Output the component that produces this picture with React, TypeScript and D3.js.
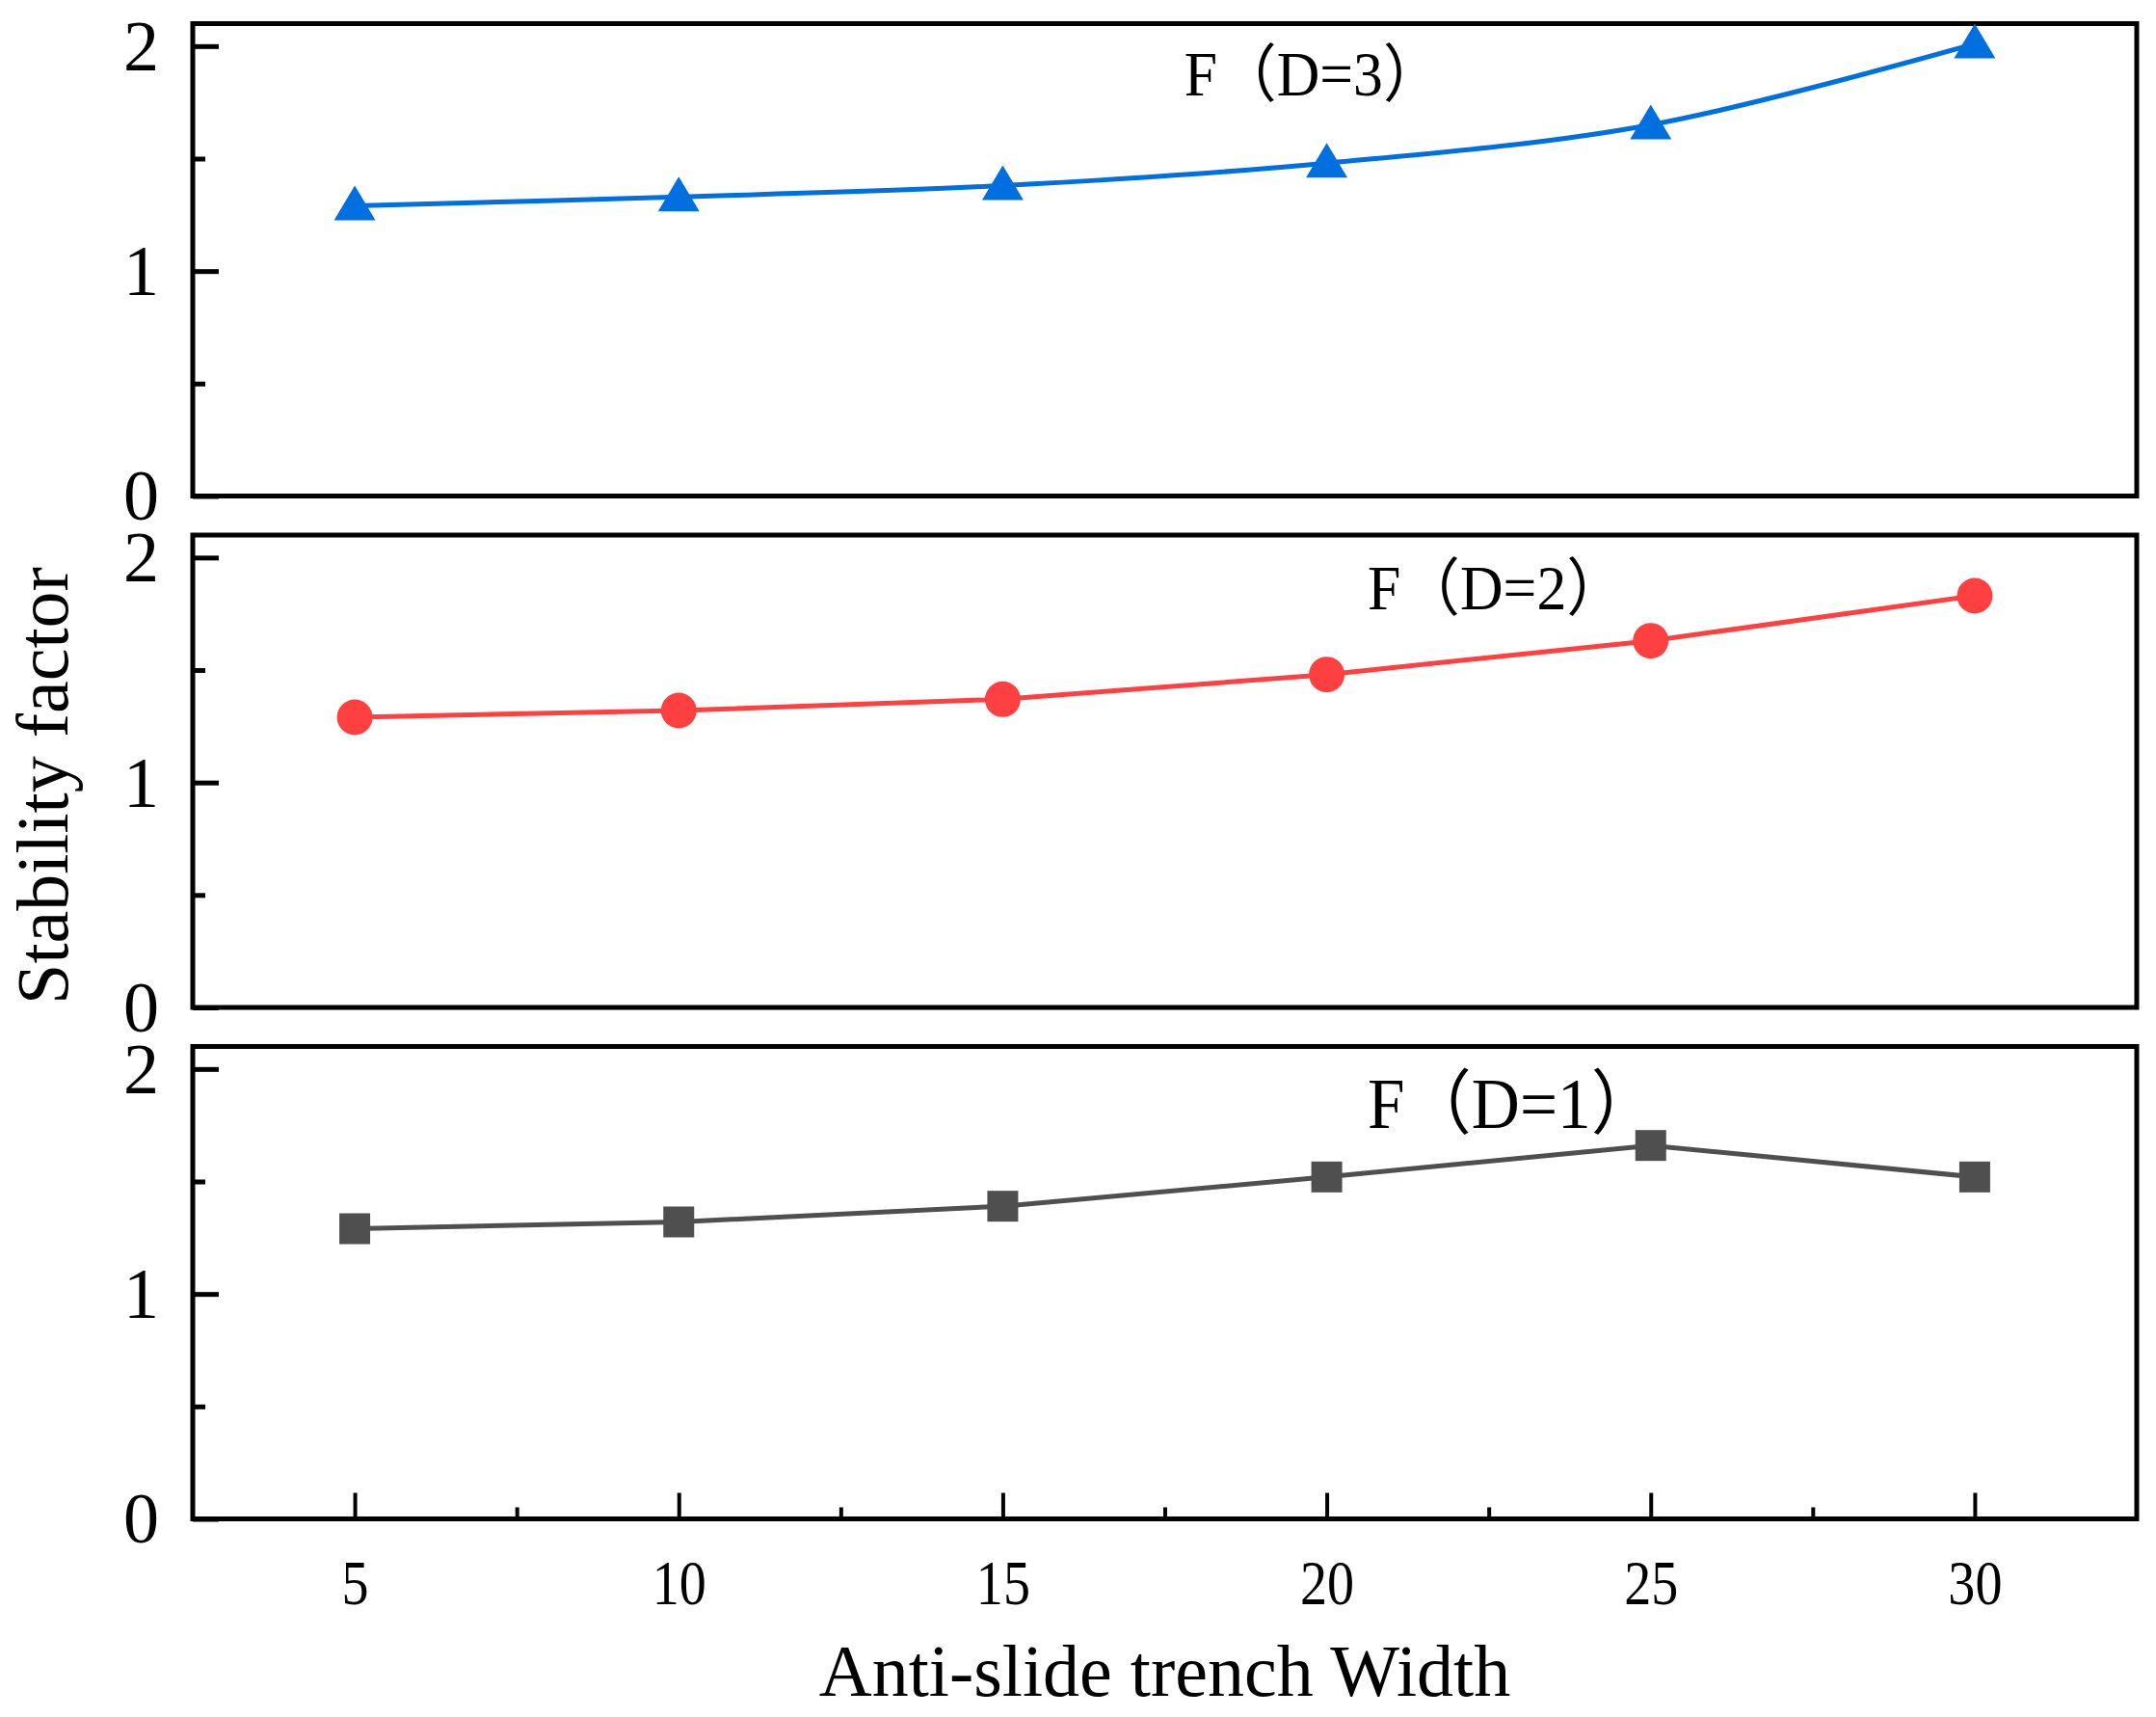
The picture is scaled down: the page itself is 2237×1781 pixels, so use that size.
import { useEffect, useRef } from "react"
import * as d3 from "d3"

// trench width (x) and stability factor per trench depth D
const widths = [5, 10, 15, 20, 25, 30]
const factorD3 = [1.29, 1.33, 1.38, 1.48, 1.65, 2.01]
const factorD2 = [1.29, 1.32, 1.37, 1.48, 1.63, 1.83]
const factorD1 = [1.29, 1.32, 1.39, 1.52, 1.66, 1.52]
const seriesLabels = ["F（D=3）", "F（D=2）", "F（D=1）"]

const xTicks = [5, 10, 15, 20, 25, 30]
const xMinorTicks = [7.5, 12.5, 17.5, 22.5, 27.5]
const yTicks = [0, 1, 2]
const yMinorTicks = [0.5, 1.5]

const W = 2237
const H = 1781
const FONT = `"Times New Roman", "Liberation Serif", "Noto Sans CJK SC", serif`

type Marker = "triangle" | "circle" | "square"

const panels = [
  { values: factorD3, label: seriesLabels[0], color: "#006fdf", marker: "triangle" as Marker, smooth: true, labelAt: [17.8, 1.78], labelSize: 65 },
  { values: factorD2, label: seriesLabels[1], color: "#ff4040", marker: "circle" as Marker, smooth: false, labelAt: [20.63, 1.77], labelSize: 65 },
  { values: factorD1, label: seriesLabels[2], color: "#4f4f4f", marker: "square" as Marker, smooth: false, labelAt: [20.63, 1.74], labelSize: 73 },
]

export default function App() {
  const svgRef = useRef<SVGSVGElement>(null)

  useEffect(() => {
    if (!svgRef.current) return
    const svg = d3.select(svgRef.current)
    svg.selectAll("*").remove()

    const left = 200
    const right = 2217
    const panelTops = [24.5, 555, 1085.5]
    const panelH = 490

    const x = d3.scaleLinear().domain([2.5, 32.5]).range([left, right])

    panels.forEach((p, i) => {
      const top = panelTops[i]
      const y = d3.scaleLinear().domain([0, 2.1]).range([top + panelH, top])
      const g = svg.append("g")

      // y axis, ticks pointing inward
      const yAxis = g.append("g")
        .attr("transform", `translate(${left},0)`)
        .call(d3.axisLeft(y).tickValues(yTicks).tickSize(-27).tickPadding(35).tickFormat(d3.format("d")))
      yAxis.select(".domain").remove()
      yAxis.selectAll(".tick line").attr("stroke", "#000").attr("stroke-width", 5)
      yAxis.selectAll("text")
        .attr("fill", "#000")
        .attr("font-family", FONT)
        .attr("font-size", 74)
        .attr("dy", "0.33em")

      const yMinor = g.append("g")
        .attr("transform", `translate(${left},0)`)
        .call(d3.axisLeft(y).tickValues(yMinorTicks).tickSize(-13).tickFormat(() => ""))
      yMinor.select(".domain").remove()
      yMinor.selectAll(".tick line").attr("stroke", "#000").attr("stroke-width", 5)

      if (i === panels.length - 1) {
        const xAxis = g.append("g")
          .attr("transform", `translate(0,${top + panelH})`)
          .call(d3.axisBottom(x).tickValues(xTicks).tickSize(-27).tickPadding(42).tickFormat(d3.format("d")))
        xAxis.select(".domain").remove()
        xAxis.selectAll(".tick line").attr("stroke", "#000").attr("stroke-width", 4)
        xAxis.selectAll("text")
          .attr("fill", "#000")
          .attr("font-family", FONT)
          .attr("font-size", 66)
          .attr("transform", "scale(0.85,1)")

        const xMinor = g.append("g")
          .attr("transform", `translate(0,${top + panelH})`)
          .call(d3.axisBottom(x).tickValues(xMinorTicks).tickSize(-12).tickFormat(() => ""))
        xMinor.select(".domain").remove()
        xMinor.selectAll(".tick line").attr("stroke", "#000").attr("stroke-width", 4)
      }

      // frame
      g.append("rect")
        .attr("x", left)
        .attr("y", top)
        .attr("width", right - left)
        .attr("height", panelH)
        .attr("fill", "none")
        .attr("stroke", "#000")
        .attr("stroke-width", 5)

      const pts = widths.map((w, k) => [w, p.values[k]] as [number, number])

      const line = d3.line<[number, number]>()
        .x((d) => x(d[0]))
        .y((d) => y(d[1]))
        .curve(p.smooth ? d3.curveCatmullRom : d3.curveLinear)

      g.append("path")
        .datum(pts)
        .attr("d", line)
        .attr("fill", "none")
        .attr("stroke", p.color)
        .attr("stroke-width", 5)

      const markers = g.selectAll(".m")
        .data(pts)
        .enter()
        .append("g")
        .attr("transform", (d) => `translate(${x(d[0])},${y(d[1])})`)

      if (p.marker === "triangle") {
        markers.append("path").attr("d", "M0,-21L21.5,15L-21.5,15Z").attr("fill", p.color)
      } else if (p.marker === "circle") {
        markers.append("circle").attr("r", 18.5).attr("fill", p.color)
      } else {
        markers.append("rect").attr("x", -16).attr("y", -16).attr("width", 32).attr("height", 32).attr("fill", p.color)
      }

      g.append("text")
        .attr("transform", `translate(${x(p.labelAt[0])},${y(p.labelAt[1])}) scale(0.95,1)`)
        .attr("font-family", FONT)
        .attr("font-size", p.labelSize)
        .attr("fill", "#000")
        .text(p.label)
    })

    svg.append("text")
      .attr("x", (left + right) / 2)
      .attr("y", 1759)
      .attr("text-anchor", "middle")
      .attr("font-family", FONT)
      .attr("font-size", 76)
      .attr("fill", "#000")
      .text("Anti-slide trench Width")

    svg.append("text")
      .attr("transform", "translate(70,815) rotate(-90)")
      .attr("text-anchor", "middle")
      .attr("font-family", FONT)
      .attr("font-size", 76)
      .attr("fill", "#000")
      .text("Stability factor")
  }, [])

  return (
    <svg
      ref={svgRef}
      width={W}
      height={H}
      style={{ position: "absolute", left: 0, top: 0, background: "#fff" }}
    />
  )
}
